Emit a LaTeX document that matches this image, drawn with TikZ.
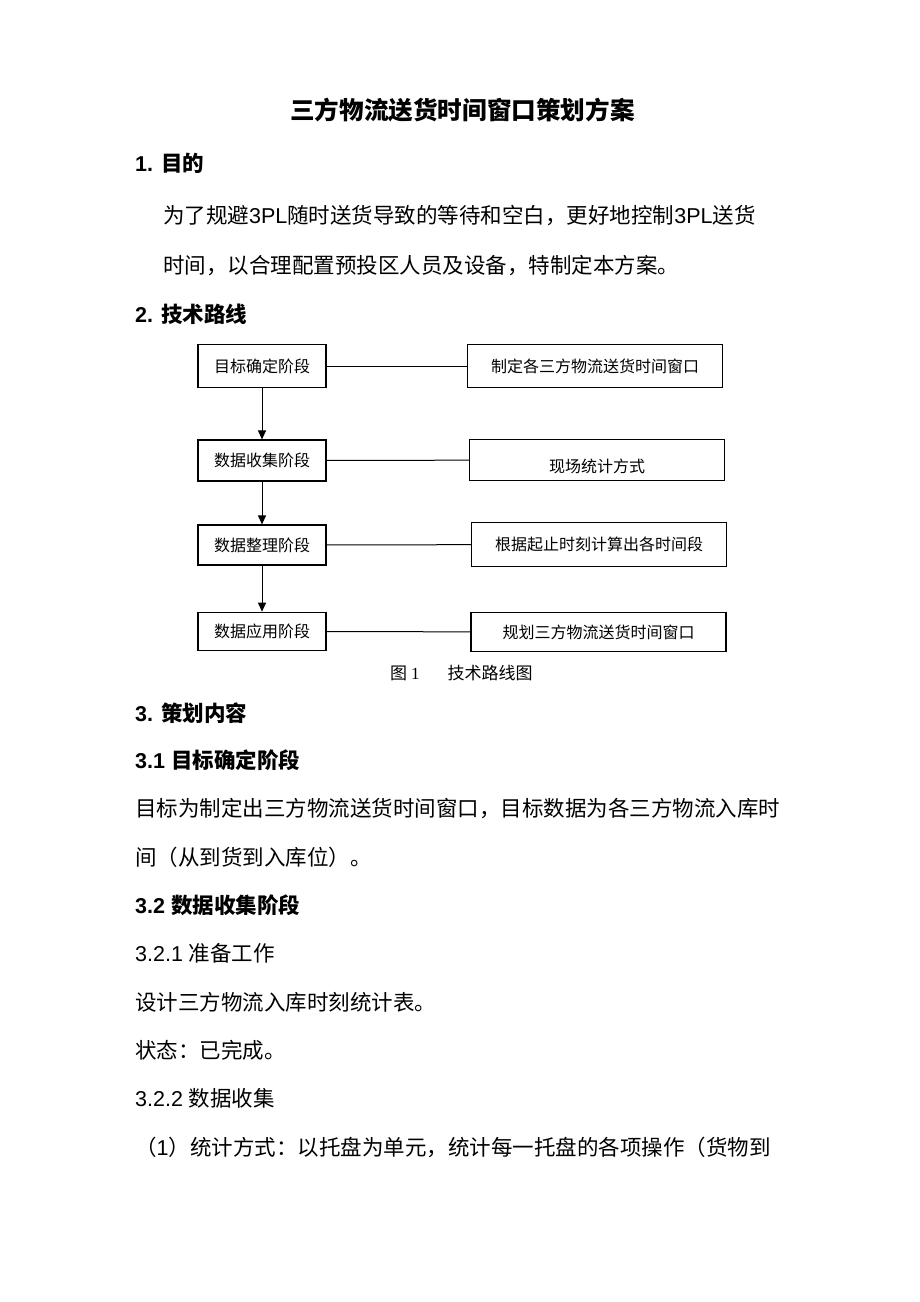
\documentclass[tikz,border=0pt]{standalone}
\usepackage{fontspec}
\setmainfont{Noto Sans CJK SC}
\newfontfamily\arial{Liberation Sans}
\newfontfamily\tnr{Liberation Serif}
\usetikzlibrary{arrows.meta}

\newcommand{\lat}[1]{{\arial #1}}

\tikzset{
    title/.style={inner sep=0pt, font=\bfseries\fontsize{24.6}{28}\selectfont, text height=21.6pt, text depth=3pt},
    head/.style={anchor=west, inner sep=0pt, font=\bfseries\fontsize{21.5}{24}\selectfont, text height=19pt, text depth=2.6pt},
    body/.style={anchor=west, inner sep=0pt, font=\fontsize{21.5}{24}\selectfont, text height=19pt, text depth=2.6pt},
    stage/.style={draw, line width=1.2pt, inner sep=0pt, minimum width=128pt, minimum height=41pt,
        font=\fontsize{16}{18}\selectfont, text height=14pt, text depth=1.8pt},
    result/.style={stage, minimum width=255pt, minimum height=43pt},
    link/.style={line width=1pt},
    flow/.style={line width=1pt, -{Triangle[width=8pt, length=9pt]}},
    caption/.style={anchor=west, inner sep=0pt, font=\fontsize{17}{20}\selectfont, text height=15pt, text depth=2pt}
}

\begin{document}
\begin{tikzpicture}[x=1pt, y=-1pt]
    \useasboundingbox (0, 0) rectangle (920, 1302); % page
    \node[title] (title) at (462.5, 110) {三方物流送货时间窗口策划方案};
    \node[head] (aim) at (135, 163) {\lat{1. }目的};
    \node[body] (aima) at (163, 215) {为了规避\lat{3PL}随时送货导致的等待和空白，更好地控制\lat{3PL}送货};
    \node[body] (aimb) at (163, 265) {时间，以合理配置预投区人员及设备，特制定本方案。};
    \node[head] (route) at (135, 314) {\lat{2. }技术路线};
    % stages
    \node[stage, minimum height=42.5pt] (goal) at (262, 366) {目标确定阶段};
    \node[stage] (collect) at (262, 460.5) {数据收集阶段};
    \node[stage, minimum height=40pt] (sort) at (262, 545) {数据整理阶段};
    \node[stage, minimum height=38.5pt] (apply) at (262, 631.5) {数据应用阶段};
    % results
    \node[result] (goalout) at (595, 366) {制定各三方物流送货时间窗口};
    \node[result, minimum height=41pt, text height=27.4pt] (collectout) at (597, 460) {现场统计方式};
    \node[result, minimum height=44pt] (sortout) at (599, 544.5) {根据起止时刻计算出各时间段};
    \node[result, minimum height=39pt] (applyout) at (598.5, 632) {规划三方物流送货时间窗口};
    \draw[flow] (goal) -- (collect);
    \draw[flow] (collect) -- (sort);
    \draw[flow] (sort) -- (apply);
    \draw[link] (goal) -- (goalout);
    \draw[link] (collect) -- (collectout);
    \draw[link] (sort) -- (sortout);
    \draw[link] (apply) -- (applyout);
    \node[caption] (fig) at (390, 673) {图\hspace{4pt}{\tnr 1}\hspace{28pt}技术路线图};
    % section 3
    \node[head] (plan) at (135, 713) {\lat{3. }策划内容};
    \node[head] (plana) at (135, 760) {\lat{3.1 }目标确定阶段};
    \node[body] (planaa) at (135, 808) {目标为制定出三方物流送货时间窗口，目标数据为各三方物流入库时};
    \node[body] (planab) at (135, 857) {间（从到货到入库位）。};
    \node[head] (planb) at (135, 905) {\lat{3.2 }数据收集阶段};
    \node[body] (prep) at (135, 953) {\lat{3.2.1 }准备工作};
    \node[body] (prepa) at (135, 1002) {设计三方物流入库时刻统计表。};
    \node[body] (prepb) at (135, 1050) {状态：已完成。};
    \node[body] (coll) at (135, 1098) {\lat{3.2.2 }数据收集};
    \node[body] (colla) at (135, 1147) {（\lat{1}）统计方式：以托盘为单元，统计每一托盘的各项操作（货物到};
\end{tikzpicture}
\end{document}
